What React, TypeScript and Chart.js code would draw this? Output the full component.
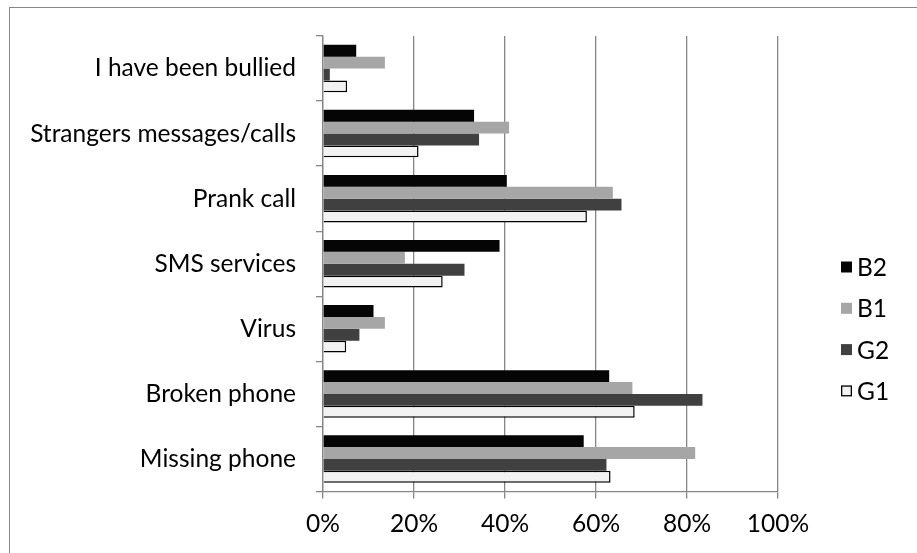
import React, { useEffect, useRef } from "react";
import { Chart, registerables } from "chart.js";

Chart.register(...registerables);

const categories = [
  "I have been bullied",
  "Strangers messages/calls",
  "Prank call",
  "SMS services",
  "Virus",
  "Broken phone",
  "Missing phone",
];
const seriesNames = ["B2", "B1", "G2", "G1"];
const b2Values = [7.3, 33.2, 40.4, 38.8, 11.1, 62.9, 57.3];
const b1Values = [13.6, 40.9, 63.7, 18.0, 13.6, 68.0, 81.8];
const g2Values = [1.5, 34.3, 65.6, 31.1, 8.0, 83.4, 62.3];
const g1Values = [5.3, 21.0, 58.0, 26.3, 5.1, 68.5, 63.2];
const xTickValues = [0, 20, 40, 60, 80, 100];

const FONT = "Lato, 'Open Sans', sans-serif";
const FONT_SIZE = 24.5;
const AXIS_GRAY = "#868686";

const legendPlugin = {
  id: "sideLegend",
  afterDraw(chart: any) {
    const ctx = chart.ctx;
    ctx.save();
    const startY = 267;
    const gap = 41.3;
    chart.data.datasets.forEach((ds: any, i: number) => {
      const cy = startY + i * gap;
      const bx = 841;
      const size = 11;
      ctx.fillStyle = ds.backgroundColor;
      ctx.fillRect(bx, cy - size / 2, size, size);
      if (ds.borderWidth) {
        ctx.strokeStyle = ds.borderColor;
        ctx.lineWidth = 1.3;
        ctx.strokeRect(bx + 0.65, cy - size / 2 + 0.65, size - 1.3, size - 1.3);
      }
      ctx.fillStyle = "#000";
      ctx.font = `${FONT_SIZE}px ${FONT}`;
      ctx.textBaseline = "middle";
      ctx.textAlign = "left";
      ctx.fillText(ds.label, 857, cy + 1);
    });
    ctx.restore();
  },
};

export default function App() {
  const canvasRef = useRef<HTMLCanvasElement | null>(null);

  useEffect(() => {
    const canvas = canvasRef.current;
    if (!canvas) return;
    const chart = new Chart(canvas, {
      type: "bar",
      data: {
        labels: categories,
        datasets: [
          {
            label: seriesNames[0],
            data: b2Values,
            backgroundColor: "#050505",
            borderWidth: 0,
          },
          {
            label: seriesNames[1],
            data: b1Values,
            backgroundColor: "#a6a6a6",
            borderWidth: 0,
          },
          {
            label: seriesNames[2],
            data: g2Values,
            backgroundColor: "#404040",
            borderWidth: 0,
          },
          {
            label: seriesNames[3],
            data: g1Values,
            backgroundColor: "#f2f2f2",
            borderColor: "#000000",
            borderWidth: 1.5,
          },
        ],
      },
      options: {
        indexAxis: "y",
        responsive: true,
        maintainAspectRatio: false,
        animation: false,
        datasets: {
          bar: {
            categoryPercentage: 0.73,
            barPercentage: 1.0,
          },
        },
        layout: {
          padding: { top: 36, right: 139, bottom: 0, left: 0 },
        },
        plugins: {
          legend: { display: false },
          tooltip: { enabled: false },
        },
        scales: {
          x: {
            type: "linear",
            min: 0,
            max: 100,
            afterBuildTicks: (scale: any) => {
              scale.ticks = xTickValues.map((v) => ({ value: v }));
            },
            ticks: {
              callback: (v: any) => `${v}%`,
              color: "#000",
              font: { family: FONT, size: FONT_SIZE },
              padding: 11,
            },
            grid: {
              color: AXIS_GRAY,
              lineWidth: 1.3,
              tickLength: 7,
              drawTicks: true,
            },
            border: { display: true, color: AXIS_GRAY, width: 1.3 },
            afterFit: (scale: any) => {
              scale.height = 61.5;
            },
          },
          y: {
            type: "category",
            ticks: {
              color: "#000",
              font: { family: FONT, size: FONT_SIZE },
              padding: 20,
            },
            grid: {
              offset: true,
              drawOnChartArea: false,
              drawTicks: true,
              tickLength: 7,
              color: AXIS_GRAY,
              lineWidth: 1.3,
            },
            border: { display: true, color: AXIS_GRAY, width: 1.3 },
            afterFit: (scale: any) => {
              scale.width = 323;
            },
          },
        },
      },
      plugins: [legendPlugin],
    });
    return () => chart.destroy();
  }, []);

  return (
    <div>
      <div
        style={{
          position: "absolute",
          left: 9,
          top: 7,
          width: 950,
          height: 600,
          borderLeft: "1.3px solid #888",
          borderTop: "1.3px solid #888",
          boxSizing: "border-box",
        }}
      />
      <div
        style={{
          position: "absolute",
          left: 0,
          top: 0,
          width: 917,
          height: 553,
        }}
      >
        <canvas ref={canvasRef} />
      </div>
    </div>
  );
}
